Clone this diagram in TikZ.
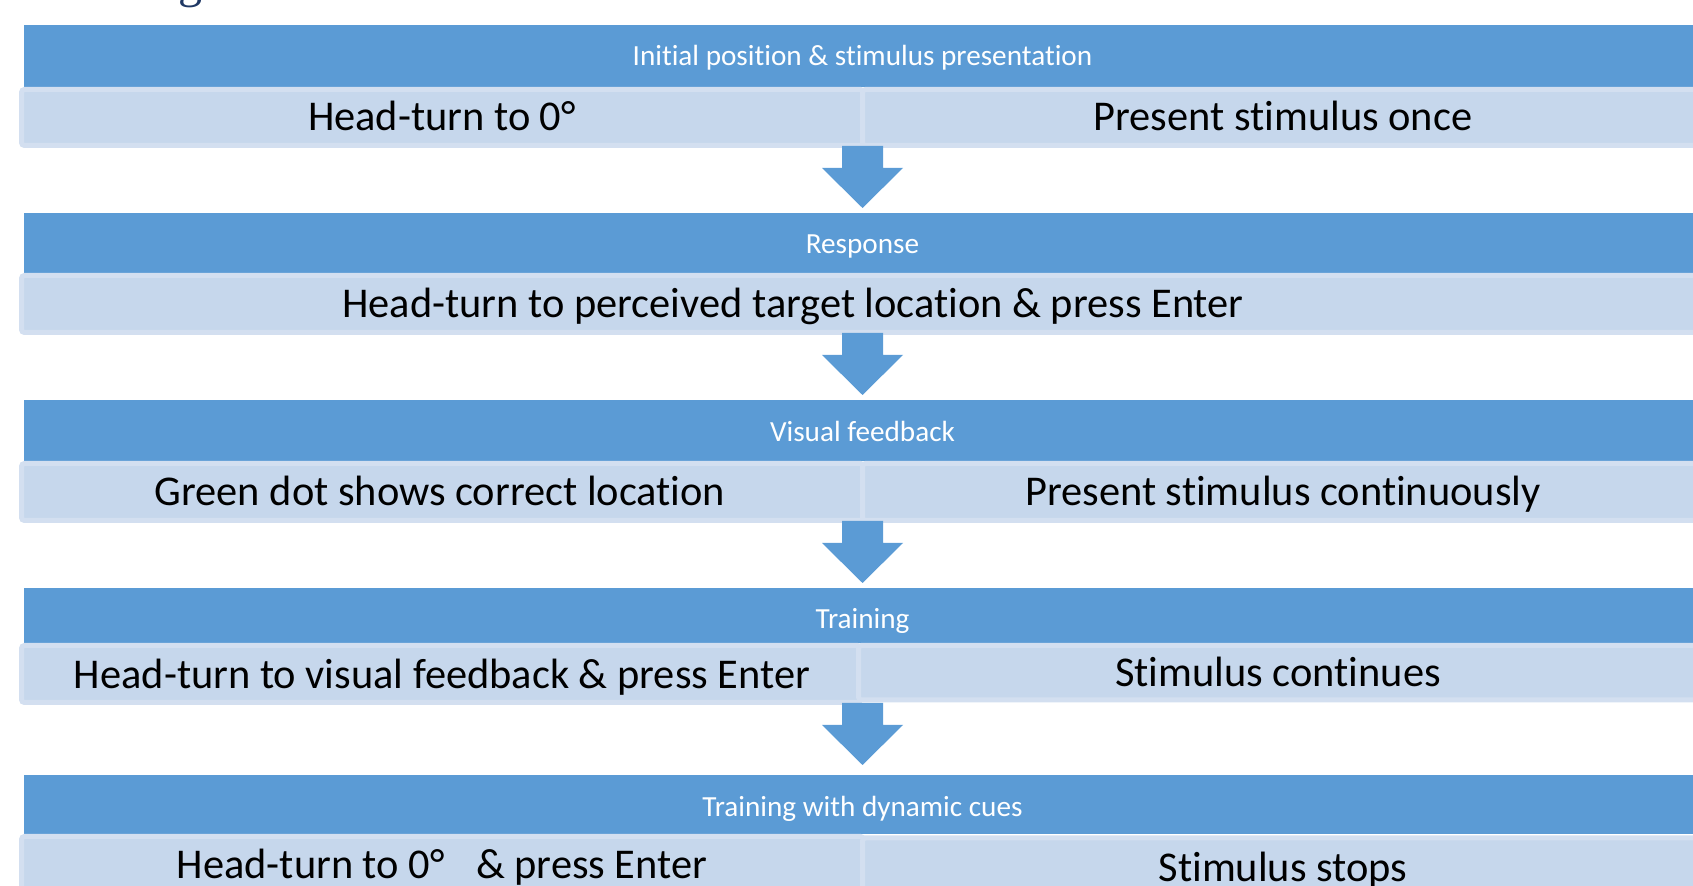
\documentclass[tikz,border=0pt]{standalone}
\usepackage{fontspec}
\setmainfont[Ligatures=NoCommon]{Carlito}
\newfontfamily\titleserif{Liberation Serif}
\usetikzlibrary{calc}
\definecolor{hdrblue}{HTML}{5B9BD5}
\definecolor{rowfill}{HTML}{C6D7EC}
\definecolor{rowedge}{HTML}{D3DFF0}
\definecolor{titlenavy}{HTML}{1F3864}
\newcommand{\blockdown}[1]{%
  \fill[flowarrow] ($(#1)+(-20.5,-2)$) -- ($(#1)+(20.5,-2)$) -- ($(#1)+(20.5,20)$)
   -- ($(#1)+(40.5,20)$) -- ($(#1)+(0,60)$) -- ($(#1)+(-40.5,20)$)
   -- ($(#1)+(-20.5,20)$) -- cycle;}
\begin{document}
\begin{tikzpicture}[x=0.5pt,y=-0.5pt,
  hdr/.style={fill=hdrblue},
  rowbox/.style={fill=rowfill,draw=rowedge,line width=2.5pt,rounded corners=1.5pt},
  hdrtext/.style={text=white,font=\fontsize{14.6}{16}\selectfont,anchor=base,inner sep=0pt},
  rowtext/.style={text=black,font=\fontsize{21.2}{24}\selectfont,anchor=base,inner sep=0pt},
  flowarrow/.style={fill=hdrblue}]
\useasboundingbox (0,0) rectangle (1693,886);

% partial title glyph
\node[font=\titleserif\fontsize{24}{24}\selectfont,text=titlenavy,anchor=base,inner sep=0pt] (ttl) at (190,-2) {g};

% Row 1
\fill[hdr] (24,25) rectangle (1720,87);
\draw[rowbox] (21.5,89.5) rectangle (863.5,145.5);
\draw[rowbox] (862.5,89.5) rectangle (1725,145.5);
\node[hdrtext] (h1) at (862.5,66) {Initial position \& stimulus presentation};
\node[rowtext] (t1l) at (442,131) {Head-turn to 0°};
\node[rowtext] (t1r) at (1283,131) {Present stimulus once};
\coordinate (a1) at (862.5,148);
\blockdown{a1}

% Row 2
\fill[hdr] (24,213) rectangle (1720,273);
\draw[rowbox] (21.5,275.5) rectangle (1725,332.5);
\node[hdrtext] (h2) at (862.5,254) {Response};
\node[rowtext] (t2) at (793,318) {Head-turn to perceived target location \& press Enter};
\coordinate (a2) at (862.5,335);
\blockdown{a2}

% Row 3
\fill[hdr] (24,400) rectangle (1720,461);
\draw[rowbox] (21.5,463.5) rectangle (863.5,520.5);
\draw[rowbox] (862.5,463.5) rectangle (1725,520.5);
\node[hdrtext] (h3) at (862.5,442) {Visual feedback};
\node[rowtext] (t3l) at (440,506) {Green dot shows correct location};
\node[rowtext] (t3r) at (1283,506) {Present stimulus continuously};
\coordinate (a3) at (862.5,523);
\blockdown{a3}

% Row 4
\fill[hdr] (24,588) rectangle (1720,643);
\draw[rowbox] (21.5,645.5) rectangle (860.5,702.5);
\draw[rowbox] (858.5,645.5) rectangle (1725,700);
\node[hdrtext] (h4) at (862.5,629) {Training};
\node[rowtext] (t4l) at (442,689) {Head-turn to visual feedback \& press Enter};
\node[rowtext] (t4r) at (1278,687) {Stimulus continues};
\coordinate (a4) at (862.5,705);
\blockdown{a4}

% Row 5
\fill[hdr] (24,775) rectangle (1720,834);
\draw[rowbox] (21.5,836.5) rectangle (863.5,900);
\draw[rowbox] (862.5,838) rectangle (1725,900);
\node[hdrtext] (h5) at (862.5,817) {Training with dynamic cues};
\node[rowtext] (t5l) at (442,879) {Head-turn to 0°\hspace{11pt} \& press Enter};
\node[rowtext] (t5r) at (1283,882) {Stimulus stops};
\end{tikzpicture}
\end{document}
